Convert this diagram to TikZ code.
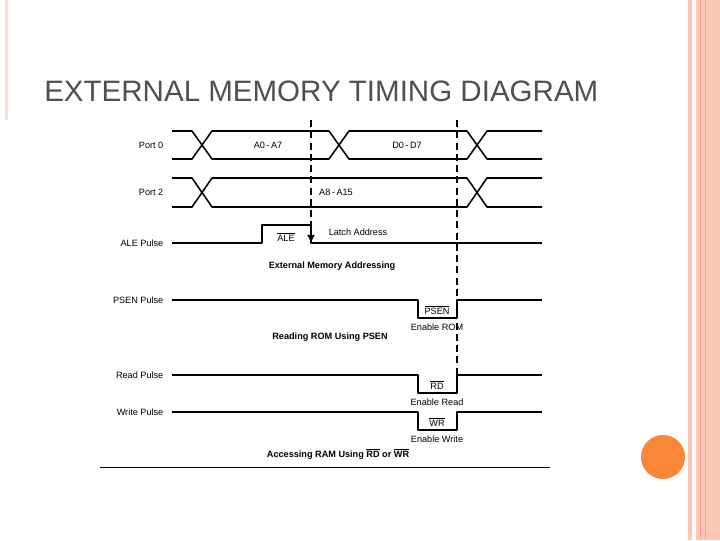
\documentclass[tikz,border=0pt]{standalone}
\usepackage{fontspec}
\setmainfont{Liberation Sans}
\usetikzlibrary{positioning, calc, arrows.meta}

\begin{document}
\begin{tikzpicture}[x=0.025cm, y=-0.025cm]
  \newcommand\crosshalf{10}
  \definecolor{slidepink}{RGB}{250,200,180}
  \definecolor{slideorange}{RGB}{250,135,55}
  \definecolor{titlegray}{RGB}{80,80,80}

  \tikzset{signal/.style={line width=1.1pt, line join=round}}
  \tikzset{siglabel/.style={font=\fontsize{6.5}{7}\selectfont, inner sep=1pt}}
  \tikzset{rowlabel/.style={siglabel, anchor=east}}
  \tikzset{caption/.style={font=\fontsize{6.5}{7}\selectfont\bfseries, inner sep=1pt}}
  \tikzset{marker/.style={line width=0.8pt, dash pattern=on 5pt off 3pt}}

  \useasboundingbox (0,0) rectangle (720,540);
  \fill[white] (0,0) rectangle (720,540);

  % slide decoration
  \fill[slidepink!60] (5,0) rectangle (8,120);
  \fill[slidepink] (688,0) rectangle (692,540);
  \fill[slidepink] (696,0) rectangle (720,540);
  \draw[slidepink!80!red, line width=0.6pt] (700,0) -- (700,540);
  \draw[slidepink!80!red, line width=0.6pt] (705,0) -- (705,540);
  \fill[slideorange] (663,457) circle (22);

  \node[anchor=base west, text=titlegray, font=\fontsize{21}{24}\selectfont, inner sep=0] (title) at (44,101) {EXTERNAL MEMORY TIMING DIAGRAM};

  % port buses: one open or closed segment between crossings
  \foreach \top/\bot/\left/\right in {131/159/172/202, 131/159/202/339, 131/159/339/477, 131/159/477/542,
                                      178/207/172/202, 178/207/202/477, 178/207/477/542}{
    \pgfmathsetmacro\mid{(\top+\bot)/2}
    \ifnum\left=172
      \draw[signal] (\left,\top) -- (\right-\crosshalf,\top) -- (\right,\mid) -- (\right-\crosshalf,\bot) -- (\left,\bot);
    \else\ifnum\right=542
      \draw[signal] (\right,\top) -- (\left+\crosshalf,\top) -- (\left,\mid) -- (\left+\crosshalf,\bot) -- (\right,\bot);
    \else
      \draw[signal] (\left,\mid) -- (\left+\crosshalf,\top) -- (\right-\crosshalf,\top) -- (\right,\mid) -- (\right-\crosshalf,\bot) -- (\left+\crosshalf,\bot) -- cycle;
    \fi\fi
  }

  \node[rowlabel] (lportzero) at (165,145) {Port 0};
  \node[rowlabel] (lporttwo) at (165,192) {Port 2};
  \node[siglabel] (alow) at (268,145) {A0\,-\,A7};
  \node[siglabel] (dlow) at (407,145) {D0\,-\,D7};
  \node[siglabel] (ahigh) at (336,192) {A8\,-\,A15};

  % ALE pulse
  \draw[signal] (172,243) -- (262,243) -- (262,225) -- (311,225) -- (311,243) -- (542,243);
  \draw[-{Triangle[length=5pt, width=5pt]}, line width=0.8pt] (311,226) -- (311,242);
  \node[rowlabel] (lale) at (165,243) {ALE Pulse};
  \node[siglabel] (ale) at (286,237) {$\overline{\mbox{ALE}}$};
  \node[siglabel] (latch) at (358,232) {Latch Address};
  \node[caption] (capale) at (332,266) {External Memory Addressing};

  % strobes
  \foreach \name/\high/\low/\rowtext/\pulsetext/\enabletext in {psen/300/318/PSEN Pulse/PSEN/Enable ROM, rd/375/393/Read Pulse/RD/Enable Read, wr/412/430/Write Pulse/WR/Enable Write}{
    \draw[signal] (172,\high) -- (418,\high) -- (418,\low) -- (457,\low) -- (457,\high) -- (542,\high);
    \node[rowlabel] (l\name) at (165,\high) {\rowtext};
    \node[siglabel] (p\name) at (437,\low-8) {$\overline{\mbox{\pulsetext}}$};
    \node[siglabel] (e\name) at (437,\low+9) {\enabletext};
  }
  \node[caption] (cappsen) at (330,337) {Reading ROM Using PSEN};
  \node[caption] (capram) at (338,454) {Accessing RAM Using $\overline{\mbox{RD}}$ or $\overline{\mbox{WR}}$};

  % markers
  \draw[marker] (311,120) -- (311,225);
  \draw[marker] (457,120) -- (457,375);
  \draw[line width=0.7pt] (100,467) -- (550,467);
\end{tikzpicture}
\end{document}
